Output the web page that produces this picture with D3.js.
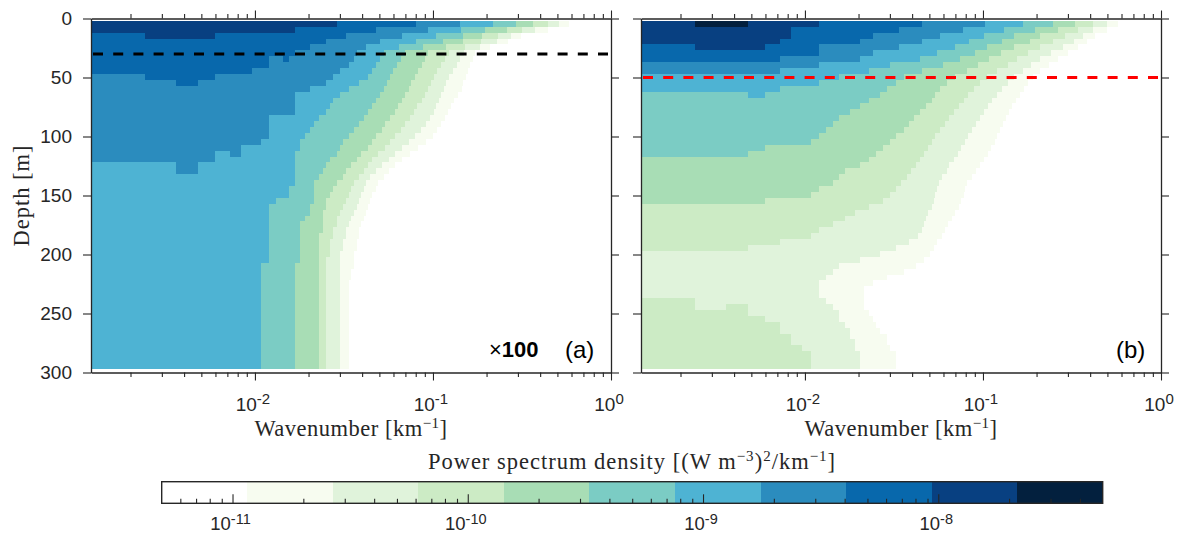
<!DOCTYPE html>
<html>
<head>
<meta charset="utf-8">
<script src="https://cdn.jsdelivr.net/npm/d3@7"></script>
<style>
  html, body { margin: 0; padding: 0; background: #fff; }
  svg { display: block; }
</style>
</head>
<body>
<svg id="chart" width="1184" height="533"></svg>
<script>
// ---------------- data ----------------
// Wavenumber grid: cells start at integer multiples of waveStep (km^-1)
const waveStep = 0.0012;
const waveDomain = [0.0012, 1];
// Depth grid: 5 m rows, row r covers [depthTops[r], depthTops[r] + depthStep]
const depthStep = 5;
const depthTops = d3.range(2, 297, 5);

// Colour levels of the power spectrum density (11 logarithmic classes)
const psdRange = [5e-12, 5e-8];
const levelColors = ["#ffffff", "#f7fcf0", "#e0f3db", "#ccebc5", "#a8ddb5", "#7bccc4",
                     "#4eb3d3", "#2b8cbe", "#0868ac", "#084081", "#03203e"];

// For every depth row: wavenumber cell index where the region of level >= L ends,
// listed for L = 10, 9, ..., 1 (1 means the level is absent in that row).
// Panel (a)
const edgesA = [
  [1,24,67,118,180,244,305,370,427,486],
  [1,14,40,78,120,163,216,263,313,370],
  [1,5,27,56,87,123,158,193,228,260],
  [1,1,21,42,67,95,123,156,190,220],
  [1,1,17,35,54,73,99,126,153,174],
  [1,1,14,31,44,58,78,102,124,143],
  [1,1,10,30,42,55,75,97,118,139],
  [1,1,10,28,40,52,72,93,113,135],
  [1,1,8,25,38,50,69,88,108,131],
  [1,1,5,23,36,48,66,84,103,127],
  [1,1,4,21,32,46,63,81,99,123],
  [1,1,1,17,28,44,61,78,96,121],
  [1,1,1,14,25,42,58,75,93,115],
  [1,1,1,14,23,40,56,72,90,110],
  [1,1,1,14,22,38,53,68,87,105],
  [1,1,1,14,21,36,51,65,84,101],
  [1,1,1,10,19,34,48,62,80,97],
  [1,1,1,10,18,32,45,58,76,92],
  [1,1,1,10,17,30,43,55,71,88],
  [1,1,1,10,16,28,40,51,66,83],
  [1,1,1,9,15,26,38,48,61,76],
  [1,1,1,7,15,25,36,45,56,69],
  [1,1,1,7,14,24,33,41,51,62],
  [1,1,1,5,14,22,31,38,47,56],
  [1,1,1,4,14,21,29,36,43,51],
  [1,1,1,4,14,20,27,34,40,47],
  [1,1,1,1,14,19,26,32,37,44],
  [1,1,1,1,14,18,24,30,35,41],
  [1,1,1,1,13,18,23,29,34,40],
  [1,1,1,1,13,18,22,28,33,38],
  [1,1,1,1,11,18,21,27,32,37],
  [1,1,1,1,10,17,21,26,31,36],
  [1,1,1,1,10,17,20,25,30,35],
  [1,1,1,1,10,16,20,24,29,34],
  [1,1,1,1,10,15,20,24,28,33],
  [1,1,1,1,10,15,20,23,27,32],
  [1,1,1,1,10,15,19,23,27,32],
  [1,1,1,1,10,15,19,22,26,31],
  [1,1,1,1,10,15,19,22,26,31],
  [1,1,1,1,10,15,19,22,25,30],
  [1,1,1,1,10,15,19,21,25,30],
  [1,1,1,1,9,14,19,21,25,30],
  [1,1,1,1,9,14,19,21,25,29],
  [1,1,1,1,9,14,19,21,25,29],
  [1,1,1,1,9,14,19,21,25,28],
  [1,1,1,1,9,14,19,21,25,28],
  [1,1,1,1,9,14,19,21,25,28],
  [1,1,1,1,9,14,19,21,25,28],
  [1,1,1,1,9,14,19,21,25,28],
  [1,1,1,1,9,14,19,21,25,28],
  [1,1,1,1,9,14,19,21,25,28],
  [1,1,1,1,9,14,19,21,25,28],
  [1,1,1,1,9,14,19,21,25,28],
  [1,1,1,1,9,14,19,21,25,28],
  [1,1,1,1,9,14,19,21,25,28],
  [1,1,1,1,9,14,19,21,25,28],
  [1,1,1,1,9,14,19,21,25,28],
  [1,1,1,1,9,14,19,21,25,28],
  [1,1,1,1,9,14,19,21,25,28]
];
// Isolated cells that break the monotone pattern: [row, firstCell, endCell, level]
const patchesA = [[2,1,2,8],[6,12,13,8],[9,1,2,7],[10,1,3,7],[22,5,6,6],[24,1,3,6],[25,1,3,6]];

// Panel (b)
const edgesB = [
  [4,10,38,86,140,207,274,346,415,480],
  [1,7,28,64,109,163,220,285,346,415],
  [1,7,20,48,84,125,174,240,305,353],
  [1,6,17,38,70,106,153,207,270,318],
  [1,5,10,28,58,88,125,175,235,285],
  [1,1,10,20,46,75,105,150,200,250],
  [1,1,6,17,37,62,90,130,175,220],
  [1,1,1,10,25,50,78,115,155,195],
  [1,1,1,6,19,38,68,100,140,175],
  [1,1,1,1,13,30,58,88,125,160],
  [1,1,1,1,10,27,52,80,115,150],
  [1,1,1,1,6,24,48,74,107,142],
  [1,1,1,1,5,22,45,69,100,135],
  [1,1,1,1,1,19,43,65,94,128],
  [1,1,1,1,1,17,40,61,89,122],
  [1,1,1,1,1,15,37,57,84,117],
  [1,1,1,1,1,13,34,54,80,112],
  [1,1,1,1,1,12,32,51,76,108],
  [1,1,1,1,1,11,30,48,72,104],
  [1,1,1,1,1,10,27,45,69,100],
  [1,1,1,1,1,9,25,43,66,97],
  [1,1,1,1,1,5,23,41,63,93],
  [1,1,1,1,1,4,21,39,60,89],
  [1,1,1,1,1,1,19,37,57,85],
  [1,1,1,1,1,1,17,35,54,80],
  [1,1,1,1,1,1,14,33,52,76],
  [1,1,1,1,1,1,13,31,49,72],
  [1,1,1,1,1,1,12,29,47,68],
  [1,1,1,1,1,1,10,27,46,66],
  [1,1,1,1,1,1,9,25,45,65],
  [1,1,1,1,1,1,5,23,44,63],
  [1,1,1,1,1,1,1,19,43,61],
  [1,1,1,1,1,1,1,16,41,58],
  [1,1,1,1,1,1,1,14,40,56],
  [1,1,1,1,1,1,1,12,39,53],
  [1,1,1,1,1,1,1,10,38,51],
  [1,1,1,1,1,1,1,9,36,49],
  [1,1,1,1,1,1,1,6,32,46],
  [1,1,1,1,1,1,1,4,27,44],
  [1,1,1,1,1,1,1,1,22,42],
  [1,1,1,1,1,1,1,1,17,39],
  [1,1,1,1,1,1,1,1,13,35],
  [1,1,1,1,1,1,1,1,12,30],
  [1,1,1,1,1,1,1,1,11,24],
  [1,1,1,1,1,1,1,1,10,20],
  [1,1,1,1,1,1,1,1,10,18],
  [1,1,1,1,1,1,1,1,10,18],
  [1,1,1,1,1,1,1,2,11,18],
  [1,1,1,1,1,1,1,4,12,18],
  [1,1,1,1,1,1,1,4,13,19],
  [1,1,1,1,1,1,1,5,13,20],
  [1,1,1,1,1,1,1,6,14,21],
  [1,1,1,1,1,1,1,6,15,22],
  [1,1,1,1,1,1,1,7,15,24],
  [1,1,1,1,1,1,1,7,16,24],
  [1,1,1,1,1,1,1,8,16,25],
  [1,1,1,1,1,1,1,9,17,27],
  [1,1,1,1,1,1,1,9,17,27],
  [1,1,1,1,1,1,1,9,17,27]
];
const patchesB = [[0,1,2,9],[4,1,2,8],[12,1,4,5],[48,2,3,2]];

// Axis ticks and reference depths
const depthTicks = [0, 50, 100, 150, 200, 250, 300];
const waveMajor = [0.01, 0.1, 1];
const waveLabels = ["-2", "-1", "0"];
const psdMajor = [1e-11, 1e-10, 1e-9, 1e-8];
const psdLabels = ["-11", "-10", "-9", "-8"];
const refDepths = [30, 50];
const refColors = ["#000000", "#ff0000"];

// ---------------- drawing ----------------
const svg = d3.select("#chart");
const axisColor = "#262626";
const sans = "'Liberation Sans', Arial, Helvetica, sans-serif";
const serif = "'Liberation Serif', 'Times New Roman', serif";

const y = d3.scaleLinear().domain([0, 300]).range([18.5, 372.5]);
const panels = [
  { range: [91, 611], edges: edgesA, patches: patchesA },
  { range: [641, 1161], edges: edgesB, patches: patchesB }
];

function minorLog(lo, hi) {
  const out = [];
  for (let e = -13; e <= 1; e++) {
    for (let m = 2; m <= 9; m++) {
      const v = m * Math.pow(10, e);
      if (v > lo * 1.0001 && v < hi * 0.9999) out.push(v);
    }
  }
  return out;
}

function styleAxis(g, keepDomain) {
  if (!keepDomain) g.select(".domain").remove();
  g.select(".domain").attr("stroke", axisColor).attr("stroke-width", 1.3);
  g.selectAll(".tick line").attr("stroke", axisColor).attr("stroke-width", 1.1);
  g.selectAll(".tick text").remove();
}

// Text with superscript parts: parts = [[string, isSup], ...]
function richText(sel, parts, size, supSize, rise) {
  let raised = false;
  parts.forEach(([s, sup]) => {
    const t = sel.append("tspan").text(s);
    if (sup && !raised) { t.attr("dy", -rise).attr("font-size", supSize); raised = true; }
    else if (sup) { t.attr("font-size", supSize); }
    else if (!sup && raised) { t.attr("dy", rise).attr("font-size", size); raised = false; }
  });
  return sel;
}

panels.forEach((p, pi) => {
  const x = d3.scaleLog().domain(waveDomain).range(p.range);
  const g = svg.append("g");

  // Spectrum cells: paint each level's region, lower levels first
  const cells = [];
  for (let level = 1; level <= 10; level++) {
    p.edges.forEach((row, r) => {
      const end = row[10 - level];
      if (end > 1) cells.push({ r, n0: 1, n1: end, level });
    });
  }
  p.patches.forEach(([r, n0, n1, level]) => cells.push({ r, n0, n1, level }));

  g.append("g").selectAll("rect").data(cells).join("rect")
    .attr("x", d => x(d.n0 * waveStep))
    .attr("width", d => x(Math.min(d.n1 * waveStep, waveDomain[1])) - x(d.n0 * waveStep))
    .attr("y", d => y(depthTops[d.r]))
    .attr("height", d => y(depthTops[d.r] + depthStep) - y(depthTops[d.r]))
    .attr("fill", d => levelColors[d.level])
    .attr("shape-rendering", "crispEdges");

  // Reference depth (dashed)
  g.append("line")
    .attr("x1", p.range[0] + 2).attr("x2", p.range[1] - 2)
    .attr("y1", y(refDepths[pi])).attr("y2", y(refDepths[pi]))
    .attr("stroke", refColors[pi]).attr("stroke-width", 3)
    .attr("stroke-dasharray", "10,10.2");

  // Frame and ticks (outward on all four sides)
  const minor = minorLog(waveDomain[0], waveDomain[1]);
  const gb = g.append("g").attr("transform", `translate(0,${y(300)})`);
  gb.append("g").call(d3.axisBottom(x).tickValues(waveMajor).tickSize(8).tickSizeOuter(0)).call(s => styleAxis(s, true));
  gb.append("g").call(d3.axisBottom(x).tickValues(minor).tickSize(4.5).tickSizeOuter(0)).call(s => styleAxis(s, false));
  const gt = g.append("g").attr("transform", `translate(0,${y(0)})`);
  gt.append("g").call(d3.axisTop(x).tickValues(waveMajor).tickSize(8).tickSizeOuter(0)).call(s => styleAxis(s, true));
  gt.append("g").call(d3.axisTop(x).tickValues(minor).tickSize(4.5).tickSizeOuter(0)).call(s => styleAxis(s, false));
  g.append("g").attr("transform", `translate(${p.range[0]},0)`)
    .call(d3.axisLeft(y).tickValues(depthTicks).tickSize(8).tickSizeOuter(0)).call(s => styleAxis(s, true));
  g.append("g").attr("transform", `translate(${p.range[1]},0)`)
    .call(d3.axisRight(y).tickValues(depthTicks).tickSize(8).tickSizeOuter(0)).call(s => styleAxis(s, true));

  // Wavenumber tick labels 10^n
  waveMajor.forEach((v, i) => {
    const t = g.append("text")
      .attr("x", x(v) - 2).attr("y", 411)
      .attr("text-anchor", "middle")
      .attr("font-family", sans).attr("font-size", 19).attr("fill", axisColor);
    richText(t, [["10", 0], [waveLabels[i], 1]], 19, 15, 7);
  });

  // Wavenumber axis title
  const xt = g.append("text")
    .attr("x", (p.range[0] + p.range[1]) / 2).attr("y", 436)
    .attr("text-anchor", "middle")
    .attr("font-family", serif).attr("font-size", 22.5).attr("fill", axisColor)
    .attr("letter-spacing", 0.5);
  richText(xt, [["Wavenumber [km", 0], ["\u22121", 1], ["]", 0]], 22.5, 15, 8.5);
});

// Depth tick labels and title (panel a only)
svg.append("g").selectAll("text").data(depthTicks).join("text")
  .attr("x", 72).attr("y", d => y(d)).attr("dy", "0.36em")
  .attr("text-anchor", "end")
  .attr("font-family", sans).attr("font-size", 19).attr("fill", axisColor)
  .text(d => d);

svg.append("text")
  .attr("transform", `translate(29,${y(150)}) rotate(-90)`)
  .attr("text-anchor", "middle")
  .attr("font-family", serif).attr("font-size", 22.5).attr("fill", axisColor)
  .attr("letter-spacing", 1)
  .text("Depth [m]");

// Panel annotations
const ann = svg.append("text").attr("x", 489).attr("y", 357)
  .attr("font-family", sans).attr("font-size", 22).attr("fill", "#000");
ann.append("tspan").text("\u00d7");
ann.append("tspan").attr("font-weight", "bold").text("100");
svg.append("text").attr("x", 565).attr("y", 358)
  .attr("font-family", sans).attr("font-size", 24).attr("fill", "#000").text("(a)");
svg.append("text").attr("x", 1116).attr("y", 358)
  .attr("font-family", sans).attr("font-size", 24).attr("fill", "#000").text("(b)");

// ---------------- colour bar ----------------
const cb = { x0: 161.7, x1: 1102.7, y0: 481.7, y1: 503.3 };
const c = d3.scaleLog().domain(psdRange).range([cb.x0, cb.x1]);
const lg0 = Math.log10(psdRange[0]), lg1 = Math.log10(psdRange[1]);
const nLevels = levelColors.length;
const bins = d3.range(nLevels).map(k => ({
  lo: Math.pow(10, lg0 + (lg1 - lg0) * k / nLevels),
  hi: Math.pow(10, lg0 + (lg1 - lg0) * (k + 1) / nLevels),
  color: levelColors[k]
}));
const gc = svg.append("g");
gc.selectAll("rect.bin").data(bins).join("rect")
  .attr("x", d => c(d.lo)).attr("width", d => c(d.hi) - c(d.lo))
  .attr("y", cb.y0).attr("height", cb.y1 - cb.y0)
  .attr("fill", d => d.color).attr("shape-rendering", "crispEdges");

const gcb = gc.append("g").attr("transform", `translate(0,${cb.y1})`);
gcb.append("g").call(d3.axisBottom(c).tickValues(psdMajor).tickSize(-9).tickSizeOuter(0)).call(s => styleAxis(s, false));
gcb.append("g").call(d3.axisBottom(c).tickValues(minorLog(psdRange[0], psdRange[1])).tickSize(-4.5).tickSizeOuter(0)).call(s => styleAxis(s, false));

gc.append("rect")
  .attr("x", cb.x0).attr("y", cb.y0).attr("width", cb.x1 - cb.x0).attr("height", cb.y1 - cb.y0)
  .attr("fill", "none").attr("stroke", axisColor).attr("stroke-width", 1.4);

psdMajor.forEach((v, i) => {
  const t = gc.append("text")
    .attr("x", c(v) - 2).attr("y", 530)
    .attr("text-anchor", "middle")
    .attr("font-family", sans).attr("font-size", 18.5).attr("fill", axisColor);
  richText(t, [["10", 0], [psdLabels[i], 1]], 18.5, 14.5, 6);
});

const ct = gc.append("text")
  .attr("x", 632).attr("y", 469)
  .attr("text-anchor", "middle")
  .attr("font-family", serif).attr("font-size", 22.5).attr("fill", axisColor)
  .attr("letter-spacing", 1.0);
richText(ct, [["Power spectrum density [(W m", 0], ["\u22123", 1], [")", 0], ["2", 1], ["/km", 0], ["\u22121", 1], ["]", 0]], 22.5, 15, 8.5);
</script>
</body>
</html>
